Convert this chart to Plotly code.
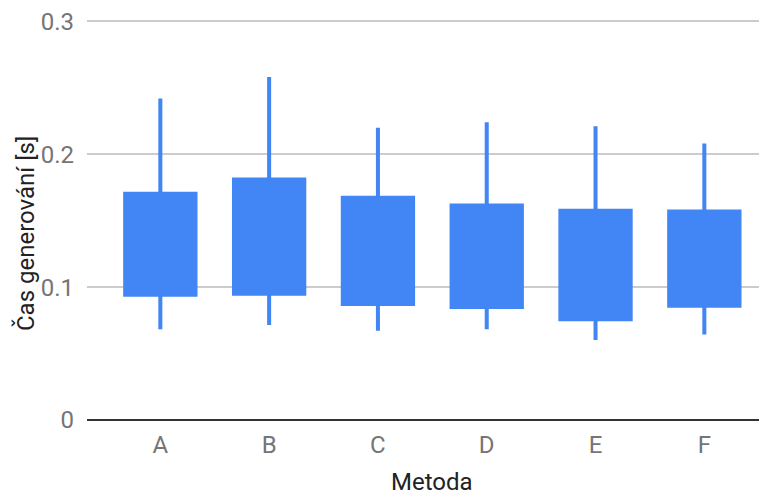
import plotly.graph_objects as go

methods = ["A", "B", "C", "D", "E", "F"]
low = [0.0682, 0.0714, 0.0672, 0.0682, 0.0602, 0.0644]
q_low = [0.0927, 0.0935, 0.0857, 0.0835, 0.0744, 0.0845]
q_high = [0.1717, 0.1825, 0.1687, 0.1629, 0.1589, 0.1584]
high = [0.2419, 0.2581, 0.2200, 0.2241, 0.2211, 0.2080]
y_ticks = [0, 0.1, 0.2, 0.3]
y_tick_text = ["0", "0.1", "0.2", "0.3"]

BLUE = "#4285F4"
OFF = 8  # page body margin
W, H = 767 - OFF, 490 - OFF
ml, mr, mt, mb = 87 - OFF, 0, 12, 70
PW, PH = W - ml - mr, H - mt - mb


def px_x(page_x):
    return (page_x - OFF - ml) / PW


def px_y(page_y):
    return (H - mb - (page_y - OFF)) / PH


fig = go.Figure()
fig.add_trace(go.Bar(
    x=list(range(len(methods))),
    y=[h - l for h, l in zip(high, low)],
    base=low,
    width=0.037,
    marker=dict(color=BLUE, line=dict(width=0)),
    hoverinfo="skip",
))
fig.add_trace(go.Bar(
    x=list(range(len(methods))),
    y=[h - l for h, l in zip(q_high, q_low)],
    base=q_low,
    width=0.683,
    marker=dict(color=BLUE, line=dict(width=0)),
))

fig.update_layout(
    width=W, height=H,
    margin=dict(l=ml, r=mr, t=mt, b=mb, pad=0),
    barmode="overlay",
    showlegend=False,
    plot_bgcolor="white",
    paper_bgcolor="white",
    font=dict(family="Roboto", size=24, color="#757575"),
    xaxis=dict(
        range=[-0.674, 5.576],
        tickmode="array",
        tickvals=list(range(len(methods))),
        ticktext=methods,
        showgrid=False,
        zeroline=False,
        showline=False,
        ticks="",
        ticklabelstandoff=8,
        tickfont=dict(size=24, color="#757575"),
    ),
    yaxis=dict(
        range=[0, 0.301],
        tickmode="array",
        tickvals=y_ticks,
        ticktext=y_tick_text,
        showgrid=True,
        gridcolor="#cccccc",
        gridwidth=1.5,
        zeroline=True,
        zerolinecolor="#333333",
        zerolinewidth=2,
        showline=False,
        ticks="",
        ticklabelstandoff=12,
        ticklabeloverflow="allow",
        tickfont=dict(size=24, color="#757575"),
    ),
    annotations=[
        dict(
            text="Čas generování [s]",
            xref="paper", yref="paper",
            x=px_x(26), y=px_y(234),
            xanchor="center", yanchor="middle",
            textangle=-90, showarrow=False,
            font=dict(family="Roboto", size=24, color="#222222"),
        ),
        dict(
            text="Metoda",
            xref="paper", yref="paper",
            x=px_x(432), y=px_y(466),
            xanchor="center", yanchor="top",
            showarrow=False,
            font=dict(family="Roboto", size=24, color="#222222"),
        ),
    ],
)

fig.write_html("out.html")
